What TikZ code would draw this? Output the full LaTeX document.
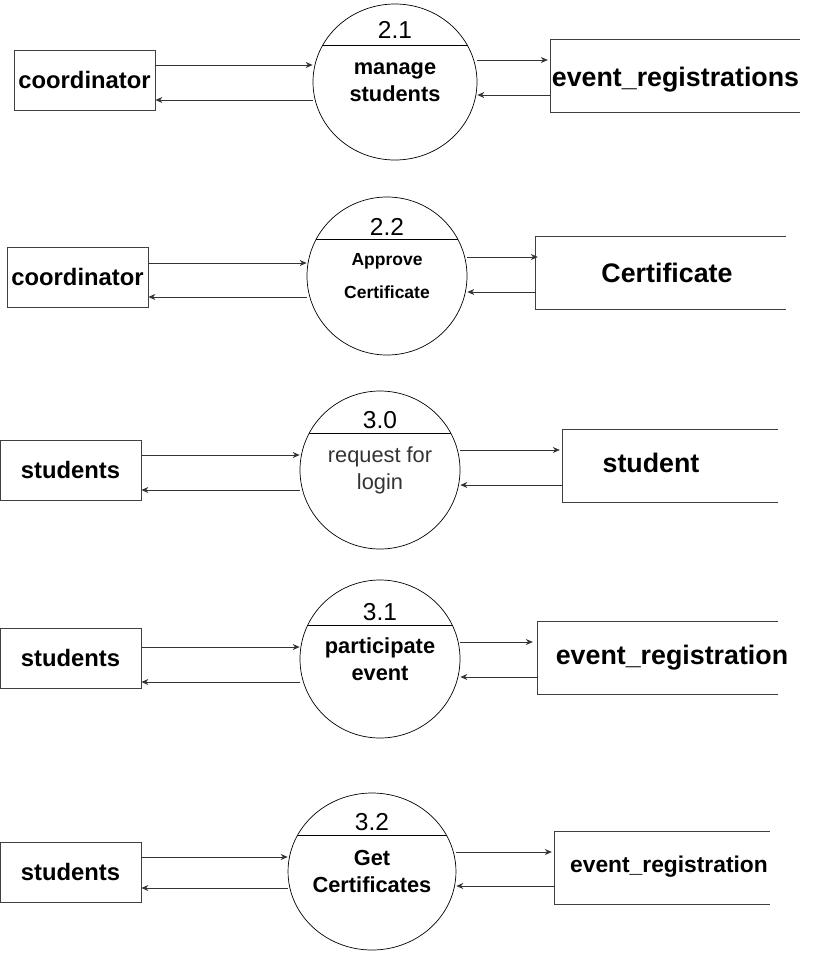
\documentclass[tikz,border=0pt]{standalone}
\usepackage{fontspec}
\setmainfont{Liberation Sans}
\usetikzlibrary{shapes.geometric,arrows.meta}

\begin{document}
\begin{tikzpicture}[x=1pt, y=-1pt,
	  entity/.style={draw=black!75, line width=0.8pt, minimum width=141pt, minimum height=60pt, inner sep=0pt, font=\fontsize{23.8}{28}\selectfont\bfseries},
	  proc/.style={ellipse, draw, line width=0.7pt, minimum width=160pt, minimum height=158pt, inner sep=0pt, align=center, font=\fontsize{21.8}{27}\selectfont},
	  num/.style={inner sep=0pt, font=\fontsize{24.5}{28}\selectfont},
	  store/.style={minimum height=72pt, inner sep=0pt},
	  storetxt/.style={inner sep=0pt, font=\fontsize{26.8}{30}\selectfont\bfseries},
	  openbox/.style={line width=0.8pt, black!75},
	  sep/.style={line width=0.7pt},
	  flow/.style={-{Stealth[length=7pt, width=6pt]}, line width=0.75pt, black!80}]
	  \useasboundingbox (0, 0) rectangle (812, 954);
	  % 2.1
	  \node[entity] (coord1) at (84.5, 80) {coordinator};
	  \node[proc, minimum width=164pt, minimum height=156pt] (manage) at (395, 82) {\bfseries manage\\\bfseries students};
	  \node[num] (n21) at ([yshift=52]manage.center) {2.1};
	  \draw[sep] (manage.153) -- (manage.27);
	  \node[store, minimum width=249pt] (evregs) at (675.5, 76) {};
	  \node[storetxt] (evregsT) at ([yshift=-4]evregs.center) {event\_registrations};
	  \draw[openbox] (evregs.north east) -- (evregs.north west) -- (evregs.south west) -- (evregs.south east);
	  \draw[flow] (coord1.east |- 0,65) -- (manage.west |- 0,65);
	  \draw[flow] (manage.west |- 0,100) -- (coord1.east |- 0,100);
	  \draw[flow, shorten >=3pt] (manage.east |- 0,60) -- (evregs.west |- 0,60);
	  \draw[flow] (evregs.west |- 0,95) -- (manage.east |- 0,95);
	  % 2.2
	  \node[entity] (coord2) at (77.5, 277) {coordinator};
	  \node[proc, font=\fontsize{17.5}{33}\selectfont\bfseries] (approve) at (387, 276) {Approve\\Certificate};
	  \node[num] (n22) at ([yshift=49]approve.center) {2.2};
	  \draw[sep] (approve.153) -- (approve.27);
	  \node[store, minimum width=250pt] (cert) at (661, 273) {};
	  \node[storetxt] (certT) at ([xshift=6]cert.center) {Certificate};
	  \draw[openbox] (cert.north east) -- (cert.north west) -- (cert.south west) -- (cert.south east);
	  \draw[flow] (coord2.east |- 0,263) -- (approve.west |- 0,263);
	  \draw[flow] (approve.west |- 0,297) -- (coord2.east |- 0,297);
	  \draw[flow] (approve.east |- 0,257) -- ([xshift=2]cert.west |- 0,257);
	  \draw[flow] (cert.west |- 0,292) -- (approve.east |- 0,292);
	  % 3.0
	  \node[entity] (stud1) at (70.5, 470) {students};
	  \node[proc, text=black!80] (login) at (380, 470) {request for\\login};
	  \node[num] (n30) at ([yshift=50]login.center) {3.0};
	  \draw[sep] (login.153) -- (login.27);
	  \node[store, minimum width=215pt] (stud) at (670.5, 466) {};
	  \node[storetxt] (studT) at ([xshift=-19.5, yshift=3]stud.center) {student};
	  \draw[openbox] (stud.north east) -- (stud.north west) -- (stud.south west) -- (stud.south east);
	  \draw[flow] (stud1.east |- 0,455) -- (login.west |- 0,455);
	  \draw[flow] (login.west |- 0,490) -- (stud1.east |- 0,490);
	  \draw[flow, shorten >=3pt] (login.east |- 0,450) -- (stud.west |- 0,450);
	  \draw[flow] (stud.west |- 0,485) -- (login.east |- 0,485);
	  % 3.1
	  \node[entity] (stud2) at (70.5, 658) {students};
	  \node[proc] (partic) at (380, 659) {\bfseries participate\\\bfseries event};
	  \node[num] (n31) at ([yshift=47]partic.center) {3.1};
	  \draw[sep] (partic.155) -- (partic.25);
	  \node[store, minimum width=240pt] (evreg1) at (658, 658) {};
	  \node[storetxt] (evreg1T) at ([xshift=14]evreg1.center) {event\_registration};
	  \draw[openbox] (evreg1.north east) -- (evreg1.north west) -- (evreg1.south west) -- (evreg1.south east);
	  \draw[flow] (stud2.east |- 0,647) -- (partic.west |- 0,647);
	  \draw[flow] (partic.west |- 0,682) -- (stud2.east |- 0,682);
	  \draw[flow, shorten >=5pt] (partic.east |- 0,642) -- (evreg1.west |- 0,642);
	  \draw[flow] (evreg1.west |- 0,677) -- (partic.east |- 0,677);
	  % 3.2
	  \node[entity] (stud3) at (70.5, 872) {students};
	  \node[proc, minimum height=157pt] (getcert) at (372, 871.5) {\bfseries Get\\\bfseries Certificates};
	  \node[num] (n32) at ([yshift=49.5]getcert.center) {3.2};
	  \draw[sep] (getcert.154) -- (getcert.26);
	  \node[store, minimum width=215pt] (evreg2) at (662.5, 868) {};
	  \node[storetxt, font=\fontsize{22.8}{27}\selectfont\bfseries] (evreg2T) at ([xshift=6.5, yshift=1]evreg2.center) {event\_registration};
	  \draw[openbox] (evreg2.north east) -- (evreg2.north west) -- (evreg2.south west) -- (evreg2.south east);
	  \draw[flow] (stud3.east |- 0,857) -- (getcert.west |- 0,857);
	  \draw[flow] (getcert.west |- 0,888) -- (stud3.east |- 0,888);
	  \draw[flow, shorten >=3pt] (getcert.east |- 0,852) -- (evreg2.west |- 0,852);
	  \draw[flow] (evreg2.west |- 0,886) -- (getcert.east |- 0,886);
	\end{tikzpicture}
\end{document}
